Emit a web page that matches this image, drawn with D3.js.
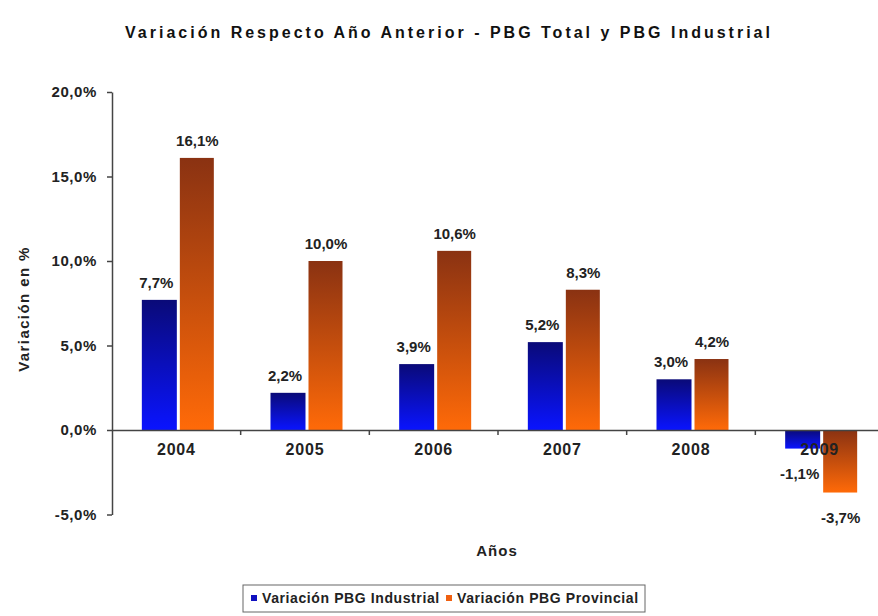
<!DOCTYPE html>
<html><head><meta charset="utf-8">
<script src="https://cdn.jsdelivr.net/npm/d3@7"></script>
<style>body{margin:0;background:#fff;font-family:"Liberation Sans",Arial,sans-serif;}</style>
</head><body>
<script>
const categories = ["2004","2005","2006","2007","2008","2009"];
const industrial = [7.7, 2.2, 3.9, 5.2, 3.0, -1.1];
const provincial = [16.1, 10.0, 10.6, 8.3, 4.2, -3.7];
const seriesNames = ["Variación PBG Industrial","Variación PBG Provincial"];
const yTicks = [-5, 0, 5, 10, 15, 20];

const W = 878, H = 616;
const svg = d3.select("body").append("svg").attr("width", W).attr("height", H);
const fmt = v => d3.format(".1f")(Math.abs(v)).replace(".", ",") + "%";
const fmtS = v => (v < 0 ? "-" : "") + fmt(v);

const defs = svg.append("defs");
const g1 = defs.append("linearGradient").attr("id","gBlue").attr("x1",0).attr("y1",0).attr("x2",0).attr("y2",1);
g1.append("stop").attr("offset","0%").attr("stop-color","#0a0a78");
g1.append("stop").attr("offset","100%").attr("stop-color","#0a14ff");
const g2 = defs.append("linearGradient").attr("id","gOrange").attr("x1",0).attr("y1",0).attr("x2",0).attr("y2",1);
g2.append("stop").attr("offset","0%").attr("stop-color","#8a3212");
g2.append("stop").attr("offset","100%").attr("stop-color","#ff6a08");

const x = d3.scaleBand().domain(categories).range([112, 884]);
const y = d3.scaleLinear().domain([-5, 20]).range([514.5, 92]);

// title
svg.append("text").attr("x", 449).attr("y", 38).attr("text-anchor","middle")
  .attr("font-size", 16).attr("font-weight","bold").attr("letter-spacing", 3).attr("fill","#111")
  .text("Variación Respecto Año Anterior - PBG Total y PBG Industrial");

// y axis
const yAxis = d3.axisLeft(y).tickValues(yTicks).tickFormat(fmtS).tickSize(5).tickSizeOuter(0);
const ya = svg.append("g").attr("transform","translate(112,0)").call(yAxis);
ya.select(".domain").attr("stroke","#444").attr("stroke-width",1.5);
ya.selectAll(".tick line").attr("stroke","#444").attr("stroke-width",1.5);
ya.selectAll(".tick text").attr("font-size",15).attr("font-weight","bold").attr("fill","#222")
  .attr("font-family","Liberation Sans, Arial, sans-serif").attr("x",-15).attr("letter-spacing",0.6);

// bars
const bw = 35, gap = 3;
const grp = svg.append("g");
categories.forEach((c, i) => {
  const cx = x(c) + x.bandwidth()/2 + 2;
  const vals = [industrial[i], provincial[i]];
  vals.forEach((v, k) => {
    const bx = k === 0 ? cx - gap/2 - bw : cx + gap/2;
    grp.append("rect").attr("x", bx).attr("width", bw - (k===1?1:0))
      .attr("y", y(Math.max(0, v))).attr("height", Math.abs(y(v) - y(0)))
      .attr("fill", k === 0 ? "url(#gBlue)" : "url(#gOrange)");
    const ly = v >= 0 ? y(v) - 12 : y(v) + 30;
    grp.append("text").attr("x", bx + bw/2 - (k===0?3:0)).attr("y", ly).attr("text-anchor","middle")
      .attr("font-size", 15).attr("font-weight","bold").attr("fill","#222").text(fmtS(v));
  });
});

// x axis
const xAxis = d3.axisBottom(x).tickSize(0).tickSizeOuter(0);
const xa = svg.append("g").attr("transform", `translate(0,${y(0)})`).call(xAxis);
xa.select(".domain").attr("stroke","#444").attr("stroke-width",1.5);
xa.selectAll(".tick text").attr("font-size",16).attr("font-weight","bold").attr("fill","#222")
  .attr("font-family","Liberation Sans, Arial, sans-serif").attr("dy", 0).attr("y", 25).attr("letter-spacing",0.8);
categories.slice(1).forEach(c => {
  xa.append("line").attr("x1", x(c)).attr("x2", x(c)).attr("y1", 0).attr("y2", 5).attr("stroke","#444").attr("stroke-width",1.5);
});

// axis titles
svg.append("text").attr("transform","translate(29,309) rotate(-90)").attr("text-anchor","middle")
  .attr("font-size",15).attr("font-weight","bold").attr("letter-spacing",1.4).attr("fill","#222").text("Variación en %");
svg.append("text").attr("x",497).attr("y",556).attr("text-anchor","middle")
  .attr("font-size",15).attr("font-weight","bold").attr("letter-spacing",1).attr("fill","#222").text("Años");

// legend
const lg = svg.append("g");
lg.append("rect").attr("x",243).attr("y",585).attr("width",402).attr("height",27)
  .attr("fill","#fff").attr("stroke","#666").attr("stroke-width",1);
const lx = [251, 446];
seriesNames.forEach((n, k) => {
  lg.append("rect").attr("x", lx[k]).attr("y", 595).attr("width",6).attr("height",6)
    .attr("fill", k===0 ? "#1010c0" : "#f06010");
  lg.append("text").attr("x", lx[k] + 11).attr("y", 603).attr("font-size",14).attr("font-weight","bold")
    .attr("letter-spacing",0.6).attr("fill","#222").text(n);
});
</script>
</body></html>
